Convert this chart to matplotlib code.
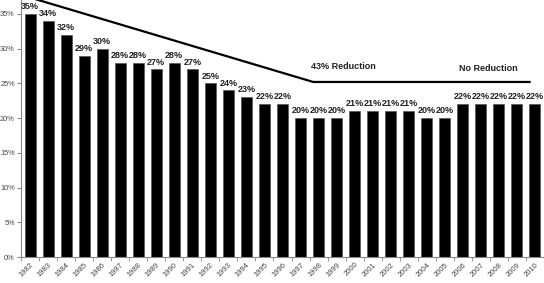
import matplotlib
matplotlib.use("Agg")
import matplotlib.pyplot as plt
import numpy as np

years = list(range(1982, 2011))
rates = [35, 34, 32, 29, 30, 28, 28, 27, 28, 27, 25, 24, 23, 22, 22,
         20, 20, 20, 21, 21, 21, 21, 20, 20, 22, 22, 22, 22, 22]
trend_x = [0.2, 15.7, 27.7]
trend_y = [37.2, 25.2, 25.2]

plt.rcParams['font.family'] = ['Liberation Sans', 'DejaVu Sans']

fig = plt.figure(figsize=(5.44, 2.83), dpi=100)
ax = fig.add_axes([21 / 544, 26 / 283, 523 / 544, 257 / 283])

x = np.arange(len(years))
ax.bar(x, rates, width=0.61, color='black', edgecolor='#555555', linewidth=0.5)
for xi, r in zip(x, rates):
    ax.text(xi, r + 0.4, f"{r}%", ha='center', va='bottom', fontsize=6.5,
            fontweight='bold', color='#222222')

ax.plot(trend_x, trend_y, color='black', linewidth=1.6, clip_on=False)
ax.text(17.35, 27.4, "43% Reduction", ha='center', va='center', fontsize=6.5,
        fontweight='bold', color='#222222')
ax.text(25.4, 27.2, "No Reduction", ha='center', va='center', fontsize=6.5,
        fontweight='bold', color='#222222')

ax.set_xlim(-0.5, len(years) - 0.5)
ax.set_ylim(0, 37)
ax.set_yticks(range(0, 40, 5))
ax.set_yticklabels([f"{v}%" for v in range(0, 40, 5)])
ax.set_xticks(x)
ax.set_xticklabels([str(y) for y in years], rotation=45, ha='right',
                   rotation_mode='anchor')
ax.set_xticks(np.arange(-0.5, len(years), 1), minor=True)
ax.tick_params(axis='x', which='major', length=0, labelsize=5.5,
               labelcolor='#444444', pad=3)
ax.tick_params(axis='x', which='minor', length=3, color='#888888')
ax.tick_params(axis='y', length=3, color='#888888', labelsize=5.3,
               labelcolor='#444444', pad=1.5)

for side in ['top', 'right']:
    ax.spines[side].set_visible(False)
for side in ['left', 'bottom']:
    ax.spines[side].set_color('#888888')
    ax.spines[side].set_linewidth(0.8)

fig.savefig("out.png", dpi=100)
